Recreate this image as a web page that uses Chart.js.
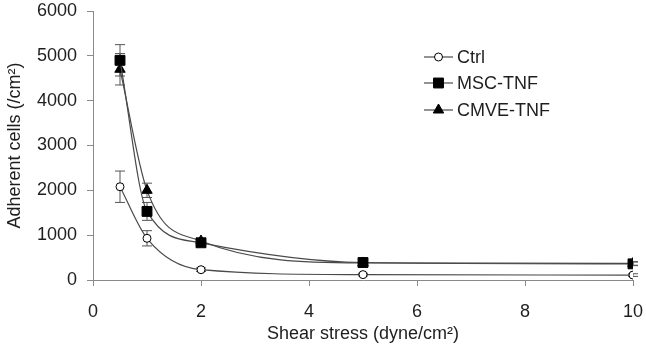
<!DOCTYPE html>
<html>
<head>
<meta charset="utf-8">
<script src="https://cdn.jsdelivr.net/npm/chart.js@4/dist/chart.umd.min.js"></script>
<style>
  html, body { margin: 0; padding: 0; background: #fff; }
  #wrap { width: 646px; height: 345px; }
</style>
</head>
<body>
<div id="wrap"><canvas id="chart" width="646" height="345"></canvas></div>
<script>
// valores
const shearStress = [0.5, 1, 2, 5, 10];
const ctrlCells = [2080, 930, 230, 120, 110];
const ctrlErr = [350, 170, 40, 30, 30];
const mscCells = [4900, 1530, 830, 390, 360];
const mscErr = [350, 200, 60, 40, 40];
const cmveCells = [4700, 2000, 870, 380, 370];
const cmveErr = [350, 160, 60, 40, 40];
const seriesNames = ['Ctrl', 'MSC-TNF', 'CMVE-TNF'];
const xTicks = [0, 2, 4, 6, 8, 10];
const yTicks = [0, 1000, 2000, 3000, 4000, 5000, 6000];

const lineColor = '#4a4a4a';
const axisColor = '#8a8a8a';
const textColor = '#1e1e1e';
const fontFamily = '"Liberation Sans", Arial, sans-serif';

function toPoints(values) {
  return shearStress.map((x, i) => ({ x: x, y: values[i] }));
}

function makeDataset(label, values, errors, style, order) {
  return Object.assign({
    label: label,
    data: toPoints(values),
    errors: errors,
    showLine: true,
    borderColor: lineColor,
    borderWidth: 1.2,
    cubicInterpolationMode: 'monotone',
    pointBorderColor: '#000',
    pointBorderWidth: 1,
    order: order
  }, style);
}

// barras de error, dibujadas antes de los marcadores
const errorBars = {
  id: 'errorBars',
  beforeDatasetsDraw(chart) {
    const ctx = chart.ctx;
    const xs = chart.scales.x, ys = chart.scales.y;
    ctx.save();
    ctx.strokeStyle = '#555';
    ctx.lineWidth = 1;
    chart.data.datasets.forEach(ds => {
      ds.data.forEach((p, i) => {
        const e = ds.errors[i];
        const px = xs.getPixelForValue(p.x);
        const top = ys.getPixelForValue(p.y + e);
        const bot = ys.getPixelForValue(p.y - e);
        ctx.beginPath();
        ctx.moveTo(px, top); ctx.lineTo(px, bot);
        ctx.moveTo(px - 5, top); ctx.lineTo(px + 5, top);
        ctx.moveTo(px - 5, bot); ctx.lineTo(px + 5, bot);
        ctx.stroke();
      });
    });
    ctx.restore();
  }
};

// leyenda con línea y marcador, como en la figura
const lineLegend = {
  id: 'lineLegend',
  afterDraw(chart) {
    const ctx = chart.ctx;
    const x0 = 424, x1 = 453, tx = 457;
    const rows = [57, 83, 110];
    ctx.save();
    seriesNames.forEach((name, i) => {
      const ds = chart.data.datasets.find(d => d.label === name);
      const y = rows[i];
      ctx.strokeStyle = lineColor;
      ctx.lineWidth = 1.2;
      ctx.beginPath();
      ctx.moveTo(x0, y); ctx.lineTo(x1, y);
      ctx.stroke();
      ctx.fillStyle = ds.pointBackgroundColor;
      ctx.strokeStyle = '#000';
      ctx.lineWidth = 1;
      Chart.helpers.drawPoint(ctx, {
        pointStyle: ds.pointStyle,
        radius: ds.pointRadius,
        borderWidth: 1,
        rotation: 0
      }, (x0 + x1) / 2, y);
      ctx.fillStyle = textColor;
      ctx.font = '18px ' + fontFamily;
      ctx.textBaseline = 'middle';
      ctx.textAlign = 'left';
      ctx.fillText(name, tx, y + 1);
    });
    ctx.restore();
  }
};

new Chart(document.getElementById('chart'), {
  type: 'scatter',
  data: {
    datasets: [
      makeDataset('Ctrl', ctrlCells, ctrlErr,
        { pointStyle: 'circle', pointRadius: 4, pointBackgroundColor: '#fff' }, 1),
      makeDataset('MSC-TNF', mscCells, mscErr,
        { pointStyle: 'rect', pointRadius: 7, pointBackgroundColor: '#000' }, 2),
      makeDataset('CMVE-TNF', cmveCells, cmveErr,
        { pointStyle: 'triangle', pointRadius: 6, pointBackgroundColor: '#000' }, 3)
    ]
  },
  options: {
    responsive: false,
    animation: false,
    layout: { padding: { top: 11, right: 13, bottom: 0, left: 0 } },
    plugins: {
      legend: { display: false },
      tooltip: { enabled: false }
    },
    scales: {
      x: {
        type: 'linear',
        min: 0, max: 10,
        afterBuildTicks: axis => { axis.ticks = xTicks.map(v => ({ value: v })); },
        afterFit: axis => { axis.height = 65; axis.paddingLeft = 0; axis.paddingRight = 0; },
        grid: { drawOnChartArea: false, color: axisColor, tickLength: 6 },
        border: { color: axisColor, width: 1 },
        ticks: { color: textColor, font: { size: 18, family: fontFamily }, padding: 15, maxRotation: 0,
                 callback: v => String(v) },
        title: {
          display: true,
          text: 'Shear stress (dyne/cm²)',
          color: textColor,
          font: { size: 18, family: fontFamily },
          padding: { top: 0, bottom: 0 }
        }
      },
      y: {
        min: 0, max: 6000,
        afterBuildTicks: axis => { axis.ticks = yTicks.map(v => ({ value: v })); },
        afterFit: axis => { axis.width = 93; axis.paddingTop = 0; axis.paddingBottom = 0; },
        grid: { drawOnChartArea: false, color: axisColor, tickLength: 6 },
        border: { color: axisColor, width: 1 },
        ticks: { color: textColor, font: { size: 18, family: fontFamily }, padding: 10,
                 callback: v => String(v) },
        title: {
          display: true,
          text: 'Adherent cells (/cm²)',
          color: textColor,
          font: { size: 18, family: fontFamily },
          padding: { top: 4, bottom: 0 }
        }
      }
    }
  },
  plugins: [errorBars, lineLegend]
});
</script>
</body>
</html>
